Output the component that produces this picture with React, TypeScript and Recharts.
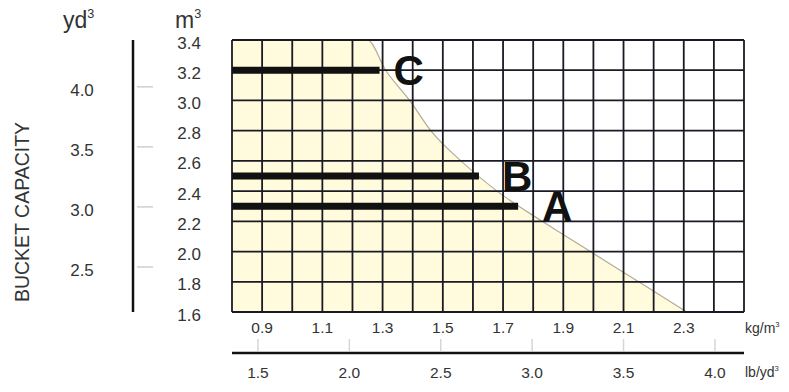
import React from 'react';
import { ComposedChart, Area, Line, XAxis, YAxis, CartesianGrid, LabelList, Label } from 'recharts';

// density axis (t/m³, labelled kg/m³) – grid every 0.1, labels on odd tenths
const kgTicks = [0.8, 0.9, 1.0, 1.1, 1.2, 1.3, 1.4, 1.5, 1.6, 1.7, 1.8, 1.9, 2.0, 2.1, 2.2, 2.3, 2.4, 2.5];
const kgLabels = [0.9, 1.1, 1.3, 1.5, 1.7, 1.9, 2.1, 2.3];
// bucket capacity m³
const m3Ticks = [1.6, 1.8, 2.0, 2.2, 2.4, 2.6, 2.8, 3.0, 3.2, 3.4];
// bucket capacity yd³
const ydTicks = [2.5, 3.0, 3.5, 4.0];
// density lb/yd³ (thousands)
const lbTicks = [1.5, 2.0, 2.5, 3.0, 3.5, 4.0];

const kgDomain = [0.8, 2.5];
const m3Domain = [1.6, 3.4];
const ydDomain = [2.125, 4.39];
const lbDomain = [1.358, 4.159];

// boundary curve: max material density vs bucket capacity
const curveDensity = [1.25, 1.31, 1.39, 1.46, 1.56, 1.68, 1.83, 1.99, 2.15, 2.31];
const curveCapacity = [3.4, 3.2, 3.0, 2.8, 2.6, 2.4, 2.2, 2.0, 1.8, 1.6];

// buckets
const bucketNames = ['A', 'B', 'C'];
const bucketCapacity = [2.3, 2.5, 3.2];
const bucketDensityLimit = [1.75, 1.62, 1.29];

const letterGap: Record<string, number> = { A: 24, B: 23, C: 14 };

const FONT = "'Liberation Sans', Arial, Helvetica, sans-serif";
const NARROW = "'Liberation Sans Narrow', 'Arial Narrow', 'Liberation Sans', sans-serif";
const INK = '#1a1a24';

const fillData = [
  { x: kgDomain[0], y: m3Domain[1] },
  ...curveDensity.map((d, i) => ({ x: d, y: curveCapacity[i] })),
];

const bucketLines = bucketNames.map((name, i) => ({
  name,
  data: [
    { x: kgDomain[0], y: bucketCapacity[i] },
    { x: bucketDensityLimit[i], y: bucketCapacity[i] },
  ],
}));

const KgTick = (props: any) => {
  const { x, y, payload } = props;
  if (!kgLabels.includes(payload.value)) return <g />;
  return (
    <text x={x} y={y + 15} textAnchor="middle" dominantBaseline="central" fontFamily={NARROW} fontSize={15.5} fill="#333">
      {payload.value.toFixed(1)}
    </text>
  );
};

const LbTick = (props: any) => {
  const { x, y, payload } = props;
  return (
    <g>
      <line x1={x} x2={x} y1={y - 2} y2={y - 14} stroke="#d6d6d6" strokeWidth={1.5} />
      <text x={x} y={y + 19} textAnchor="middle" dominantBaseline="central" fontFamily={NARROW} fontSize={15.5} fill="#333">
        {payload.value.toFixed(1)}
      </text>
    </g>
  );
};

const M3Tick = (props: any) => {
  const { x, y, payload } = props;
  return (
    <text x={x - 31} y={y + 3} textAnchor="end" dominantBaseline="central" fontFamily={FONT} fontSize={17} fill="#333">
      {payload.value.toFixed(1)}
    </text>
  );
};

const YdTick = (props: any) => {
  const { x, y, payload } = props;
  return (
    <g>
      <line x1={x + 4} x2={x + 20} y1={y} y2={y} stroke="#cfcfcf" strokeWidth={1.5} />
      <text x={x - 51} y={y + 4} textAnchor="middle" dominantBaseline="central" fontFamily={FONT} fontSize={17} fill="#333">
        {payload.value.toFixed(1)}
      </text>
    </g>
  );
};

const unitText = (x: number, y: number, base: string, size: number, family: string) => (
  <text x={x} y={y} fontFamily={family} fontSize={size} fill="#333">
    {base}
    <tspan dy={-size * 0.45} fontSize={size * 0.55}>3</tspan>
  </text>
);

const YdLabel = (props: any) => {
  const vb = props.viewBox || {};
  const cx = vb.x - 11;
  const cy = vb.y + vb.height / 2 + 36;
  return (
    <g>
      {unitText(vb.x + 30, vb.y - 12, 'yd', 23, FONT)}
      <text
        x={cx}
        y={cy}
        transform={`rotate(-90, ${cx}, ${cy})`}
        textAnchor="middle"
        dominantBaseline="central"
        fontFamily={FONT}
        fontSize={19.5}
        fill="#333"
      >
        BUCKET CAPACITY
      </text>
    </g>
  );
};

const M3Label = (props: any) => {
  const vb = props.viewBox || {};
  return unitText(vb.x + 42, vb.y - 12, 'm', 23, FONT);
};

const KgUnit = (props: any) => {
  const vb = props.viewBox || {};
  return unitText(vb.x + vb.width + 1, vb.y + 21, 'kg/m', 14, NARROW);
};

const LbUnit = (props: any) => {
  const vb = props.viewBox || {};
  return unitText(vb.x + vb.width + 1, vb.y + 24, 'lb/yd', 14, NARROW);
};

const makeLetter = (name: string) => (p: any) => {
  if (p.index !== 1) return null;
  const px = p.x ?? p.viewBox?.x;
  const py = p.y ?? p.viewBox?.y;
  return (
    <text x={px + letterGap[name]} y={py + 15} fontFamily={FONT} fontWeight="bold" fontSize={42} fill="#111">
      {name}
    </text>
  );
};

export default function App() {
  return (
    <div style={{ position: 'absolute', left: 0, top: 0, background: '#fff' }}>
      <ComposedChart
        width={789}
        height={392}
        margin={{ top: 40, right: 45, bottom: 4, left: 33 }}
        style={{ fontFamily: FONT }}
      >
        <XAxis
          xAxisId="kg"
          dataKey="x"
          type="number"
          domain={kgDomain}
          ticks={kgTicks}
          allowDataOverflow
          interval={0}
          height={41}
          axisLine={false}
          tickLine={false}
          tickSize={0}
          tickMargin={0}
          tick={<KgTick />}
        >
          <Label content={<KgUnit />} />
        </XAxis>
        <XAxis
          xAxisId="lb"
          dataKey="x"
          type="number"
          domain={lbDomain}
          ticks={lbTicks}
          allowDataOverflow
          interval={0}
          height={35}
          axisLine={{ stroke: '#111', strokeWidth: 2.5 }}
          tickLine={false}
          tickSize={0}
          tickMargin={0}
          tick={<LbTick />}
        >
          <Label content={<LbUnit />} />
        </XAxis>
        <YAxis
          yAxisId="m3"
          type="number"
          domain={m3Domain}
          ticks={m3Ticks}
          allowDataOverflow
          interval={0}
          width={99}
          axisLine={false}
          tickLine={false}
          tickSize={0}
          tickMargin={0}
          tick={<M3Tick />}
        >
          <Label content={<M3Label />} />
        </YAxis>
        <YAxis
          yAxisId="yd"
          type="number"
          domain={ydDomain}
          ticks={ydTicks}
          allowDataOverflow
          interval={0}
          width={100}
          axisLine={{ stroke: '#111', strokeWidth: 2.5 }}
          tickLine={false}
          tickSize={0}
          tickMargin={0}
          tick={<YdTick />}
        >
          <Label content={<YdLabel />} />
        </YAxis>
        <Area
          xAxisId="kg"
          yAxisId="m3"
          data={fillData}
          dataKey="y"
          type="monotone"
          fill="#fffbdc"
          fillOpacity={1}
          stroke="#b3ab98"
          strokeWidth={1.2}
          isAnimationActive={false}
          dot={false}
          activeDot={false}
        />
        <CartesianGrid
          xAxisId="kg"
          yAxisId="m3"
          stroke={INK}
          strokeWidth={1.8}
          // @ts-ignore
          zIndex={150}
        />
        {bucketLines.map((b) => (
          <Line
            key={b.name}
            xAxisId="kg"
            yAxisId="m3"
            data={b.data}
            dataKey="y"
            stroke="#111"
            strokeWidth={7}
            strokeLinecap="butt"
            dot={false}
            activeDot={false}
            isAnimationActive={false}
          >
            <LabelList dataKey="y" content={makeLetter(b.name)} />
          </Line>
        ))}
      </ComposedChart>
    </div>
  );
}
